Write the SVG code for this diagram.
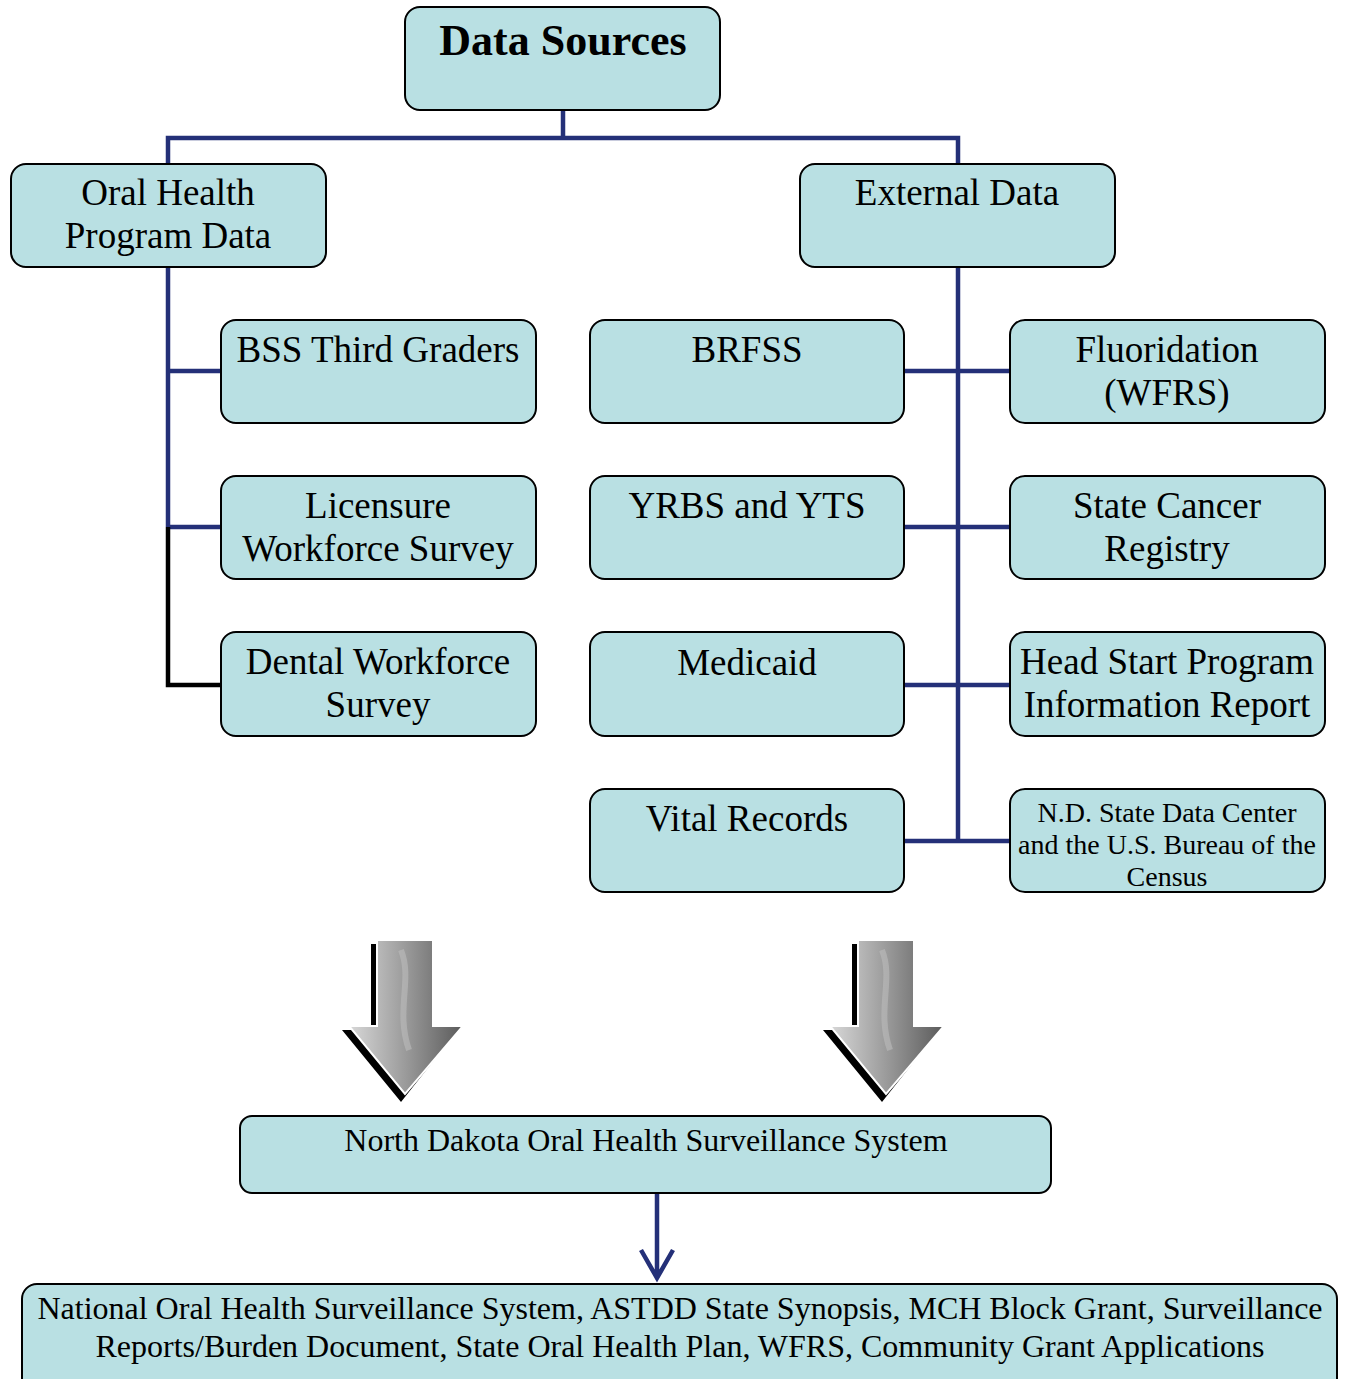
<svg xmlns="http://www.w3.org/2000/svg" width="1347" height="1379" viewBox="0 0 1347 1379">
<style>
.box{fill:#b9e0e3;stroke:#000;stroke-width:2}
.t{font-family:"Liberation Serif","Times New Roman",serif;font-size:37px;fill:#000;text-anchor:middle}
.s{font-size:28px}
.m{font-size:32px}
.b{font-size:44px;font-weight:bold}
.c{fill:none;stroke:#243078;stroke-width:4.5}
.k{fill:none;stroke:#000;stroke-width:4.5}
</style>
<defs>
<linearGradient id="g" x1="0" y1="0" x2="1" y2="0">
<stop offset="0" stop-color="#d8d8d8"/>
<stop offset="0.5" stop-color="#9a9a9a"/>
<stop offset="1" stop-color="#5a5a5a"/>
</linearGradient>
<g id="bigarrow">
<path d="M-30,0 L26,0 L26,86 L57,86 L0,158 L-59,86 L-30,86 Z" fill="#000" transform="translate(-4,4)"/>
<path d="M-28,0 L28,0 L28,86 L58,86 L0,154 L-56,86 L-28,86 Z" fill="url(#g)" stroke="#fff" stroke-width="2"/>
<path d="M-4,10 C8,40 -10,70 4,110" fill="none" stroke="#bdbdbd" stroke-width="6" opacity="0.6"/>
</g>
</defs>
<g id="connectors">
<path class="c" d="M563,110 V138 M168,164 V138 H958 V164"/>
<path class="c" d="M168,267 V527 M168,371 H221 M168,527 H221"/>
<path class="k" d="M168,527 V685 H221"/>
<path class="c" d="M958,267 V841 M904,371 H1010 M904,527 H1010 M904,685 H1010 M904,841 H1010"/>
<path class="c" d="M657,1193 V1278 M641,1250 L657,1278 L673,1250" stroke-width="5"/>
</g>
<g id="n-datasources"><rect class="box" x="405" y="7" width="315" height="103" rx="15"/><text class="t b" x="563" y="55">Data Sources</text></g>
<g id="n-oralhealth"><rect class="box" x="11" y="164" width="315" height="103" rx="15"/><text class="t" x="168" y="205">Oral Health</text><text class="t" x="168" y="248">Program Data</text></g>
<g id="n-external"><rect class="box" x="800" y="164" width="315" height="103" rx="15"/><text class="t" x="957" y="205">External Data</text></g>
<g id="n-bss"><rect class="box" x="221" y="320" width="315" height="103" rx="15"/><text class="t" x="378" y="362">BSS Third Graders</text></g>
<g id="n-licensure"><rect class="box" x="221" y="476" width="315" height="103" rx="15"/><text class="t" x="378" y="518">Licensure</text><text class="t" x="378" y="561">Workforce Survey</text></g>
<g id="n-dental"><rect class="box" x="221" y="632" width="315" height="104" rx="15"/><text class="t" x="378" y="674">Dental Workforce</text><text class="t" x="378" y="717">Survey</text></g>
<g id="n-brfss"><rect class="box" x="590" y="320" width="314" height="103" rx="15"/><text class="t" x="747" y="362">BRFSS</text></g>
<g id="n-yrbs"><rect class="box" x="590" y="476" width="314" height="103" rx="15"/><text class="t" x="747" y="518">YRBS and YTS</text></g>
<g id="n-medicaid"><rect class="box" x="590" y="632" width="314" height="104" rx="15"/><text class="t" x="747" y="675">Medicaid</text></g>
<g id="n-vital"><rect class="box" x="590" y="789" width="314" height="103" rx="15"/><text class="t" x="747" y="831">Vital Records</text></g>
<g id="n-fluoridation"><rect class="box" x="1010" y="320" width="315" height="103" rx="15"/><text class="t" x="1167" y="362">Fluoridation</text><text class="t" x="1167" y="405">(WFRS)</text></g>
<g id="n-cancer"><rect class="box" x="1010" y="476" width="315" height="103" rx="15"/><text class="t" x="1167" y="518">State Cancer</text><text class="t" x="1167" y="561">Registry</text></g>
<g id="n-headstart"><rect class="box" x="1010" y="632" width="315" height="104" rx="15"/><text class="t" x="1167" y="674">Head Start Program</text><text class="t" x="1167" y="717">Information Report</text></g>
<g id="n-census"><rect class="box" x="1010" y="789" width="315" height="103" rx="15"/><text class="t s" x="1167" y="822">N.D. State Data Center</text><text class="t s" x="1167" y="854">and the U.S. Bureau of the</text><text class="t s" x="1167" y="886">Census</text></g>
<g id="arrows"><use href="#bigarrow" x="405" y="940"/><use href="#bigarrow" x="886" y="940"/></g>
<g id="n-ndohss"><rect class="box" x="240" y="1116" width="811" height="77" rx="12"/><text class="t m" x="646" y="1151">North Dakota Oral Health Surveillance System</text></g>
<g id="n-national"><rect class="box" x="22" y="1284" width="1315" height="110" rx="15"/><text class="t m" x="680" y="1319">National Oral Health Surveillance System, ASTDD State Synopsis, MCH Block Grant, Surveillance</text><text class="t m" x="680" y="1357">Reports/Burden Document, State Oral Health Plan, WFRS, Community Grant Applications</text></g>
</svg>
